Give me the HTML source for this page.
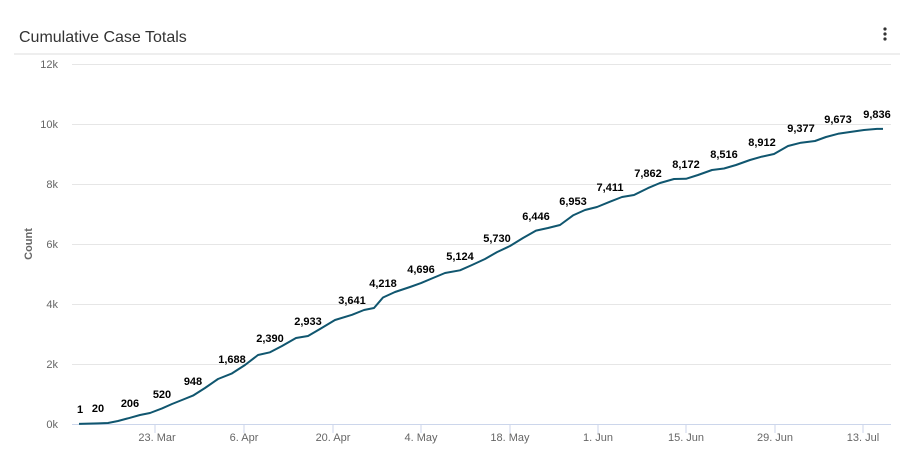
<!DOCTYPE html>
<html><head><meta charset="utf-8"><style>
body{margin:0;background:#fff;width:906px;height:465px;overflow:hidden;font-family:"Liberation Sans",sans-serif}
</style></head><body>
<svg width="906" height="465" xmlns="http://www.w3.org/2000/svg" font-family="Liberation Sans, sans-serif">
<text x="19" y="42" font-size="16" fill="#333">Cumulative Case Totals</text>
<circle cx="885" cy="29" r="1.6" fill="#333"/><circle cx="885" cy="34" r="1.6" fill="#333"/><circle cx="885" cy="39" r="1.6" fill="#333"/>
<line x1="14" y1="54" x2="900" y2="54" stroke="#ddd"/>
<g stroke="#e6e6e6" stroke-width="1">
<line x1="72" y1="64.5" x2="891" y2="64.5"/><line x1="72" y1="124.5" x2="891" y2="124.5"/>
<line x1="72" y1="184.5" x2="891" y2="184.5"/><line x1="72" y1="244.5" x2="891" y2="244.5"/>
<line x1="72" y1="304.5" x2="891" y2="304.5"/><line x1="72" y1="364.5" x2="891" y2="364.5"/>
</g>
<line x1="72" y1="424.5" x2="891" y2="424.5" stroke="#ccd6eb"/>
<g stroke="#ccd6eb"><line x1="155" y1="425" x2="155" y2="433"/><line x1="244" y1="425" x2="244" y2="433"/><line x1="333" y1="425" x2="333" y2="433"/><line x1="421" y1="425" x2="421" y2="433"/><line x1="510" y1="425" x2="510" y2="433"/><line x1="598" y1="425" x2="598" y2="433"/><line x1="686" y1="425" x2="686" y2="433"/><line x1="775" y1="425" x2="775" y2="433"/><line x1="863" y1="425" x2="863" y2="433"/></g>
<g font-size="11" fill="#666" text-anchor="end">
<text x="58" y="68">12k</text><text x="58" y="128">10k</text><text x="58" y="188">8k</text><text x="58" y="248">6k</text><text x="58" y="308">4k</text><text x="58" y="368">2k</text><text x="58" y="428">0k</text>
</g>
<g font-size="11" fill="#666" text-anchor="middle">
<text x="157" y="441">23. Mar</text><text x="244" y="441">6. Apr</text><text x="333" y="441">20. Apr</text><text x="421" y="441">4. May</text><text x="510" y="441">18. May</text><text x="598" y="441">1. Jun</text><text x="686" y="441">15. Jun</text><text x="775" y="441">29. Jun</text><text x="863" y="441">13. Jul</text>
</g>
<text transform="translate(32,244) rotate(-90)" font-size="11" font-weight="bold" fill="#666" text-anchor="middle">Count</text>
<polyline fill="none" stroke="#10566f" stroke-width="2" stroke-linejoin="round" points="79,423.9 98,423.4 108,423 118,421 130,417.8 140,415 150,413 162,408.4 172,404 182,400 193,395.6 205,388 218,379 232,373.4 245,365 258,355 270,352.3 282,346 296,338 308,336 320,329 335,320 352,314.8 364,310 374,308 383,297.5 395,292 410,287 421,283.1 433,278 445,273 460,270.3 472,265 485,259 497,252.1 510,246 523,238 536,230.6 548,228 560,225 573,215.4 585,210 597,207 610,201.7 622,197 634,195 648,188.1 660,183 674,179 686,178.8 698,175 712,170 724,168.5 736,165 750,160 762,156.6 774,154 788,146 801,142.7 815,141 826,137 838,133.8 850,132 864,130 877,128.9 883,128.9"/>
<g font-size="11" font-weight="bold" fill="#000" text-anchor="middle">
<text x="80" y="413">1</text><text x="98" y="412">20</text><text x="130" y="407">206</text><text x="162" y="398">520</text><text x="193" y="385">948</text><text x="232" y="363">1,688</text><text x="270" y="342">2,390</text><text x="308" y="325">2,933</text><text x="352" y="304">3,641</text><text x="383" y="287">4,218</text><text x="421" y="273">4,696</text><text x="460" y="260">5,124</text><text x="497" y="242">5,730</text><text x="536" y="220">6,446</text><text x="573" y="205">6,953</text><text x="610" y="191">7,411</text><text x="648" y="177">7,862</text><text x="686" y="168">8,172</text><text x="724" y="158">8,516</text><text x="762" y="146">8,912</text><text x="801" y="132">9,377</text><text x="838" y="123">9,673</text><text x="877" y="118">9,836</text>
</g>
</svg>
</body></html>
